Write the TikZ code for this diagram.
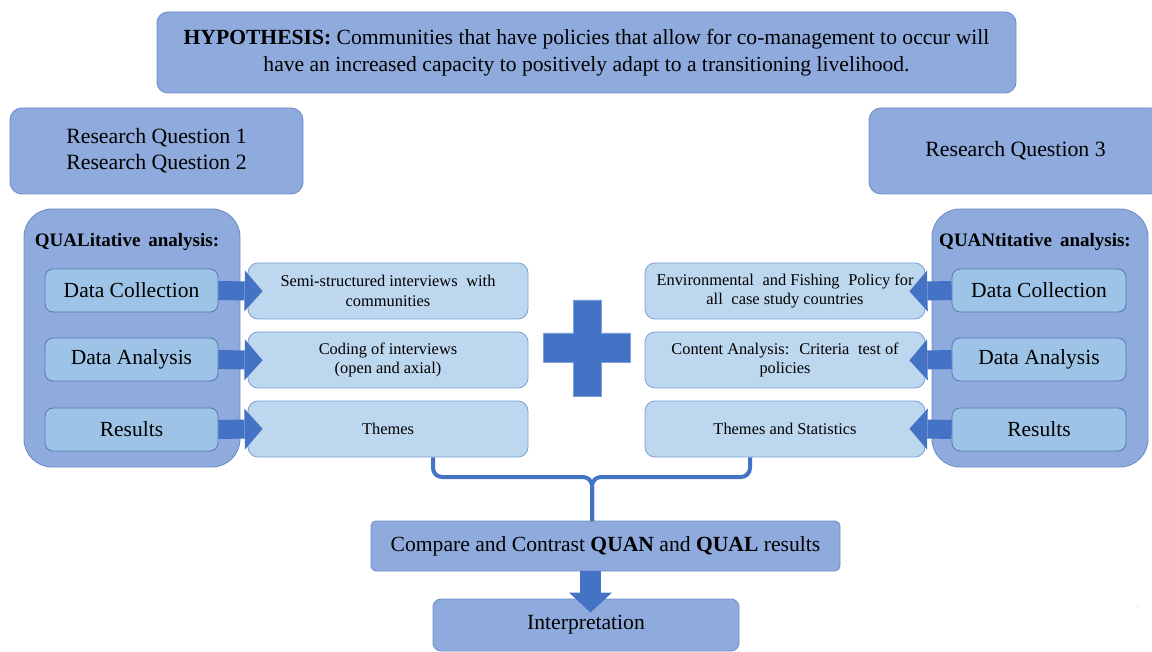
\documentclass[tikz,border=0pt]{standalone}
\usepackage{fontspec}
\setmainfont{Liberation Serif}
\usepackage{tikz}
\usetikzlibrary{arrows.meta,positioning,calc}
\definecolor{rqFrame}{HTML}{8FAADC}
\definecolor{rqFrameLine}{HTML}{6F8FCB}
\definecolor{rqStep}{HTML}{9DC3E6}
\definecolor{rqStepLine}{HTML}{5577B5}
\definecolor{rqPale}{HTML}{BDD7EE}
\definecolor{rqPaleLine}{HTML}{7E9FD6}
\definecolor{rqArrow}{HTML}{4472C4}

\tikzset{
  framebox/.style={draw=rqFrameLine, fill=rqFrame, line width=0.9pt, inner sep=0pt, align=center},
  stepbox/.style={draw=rqStepLine, fill=rqStep, line width=0.8pt, rounded corners=8pt, inner sep=0pt,
    minimum height=43pt, align=center, font=\fontsize{21.5}{25}\selectfont},
  palebox/.style={draw=rqPaleLine, fill=rqPale, line width=0.8pt, rounded corners=10pt, inner sep=0pt,
    minimum width=280pt, minimum height=56pt, align=center, font=\fontsize{16.4}{19.5}\selectfont},
  fatarrow/.style={rqArrow, line width=19pt, -{Triangle[length=18pt,width=41pt,line width'=0pt]}}
}

\begin{document}
\begin{tikzpicture}[x=1pt, y=-1pt]
    \useasboundingbox (0,0) rectangle (1152,652);
    \clip (0,0) rectangle (1152,652);
    \fill[white] (0,0) rectangle (1152,652);

    \node[framebox, rounded corners=11pt, minimum width=859pt, minimum height=81pt,
      font=\fontsize{21.6}{27}\selectfont] (hyp) at (586.5,52.5)
      {\textbf{HYPOTHESIS:} Communities that have policies that allow for co-management to occur will\\
       have an increased capacity to positively adapt to a transitioning livelihood.};

    \node[framebox, rounded corners=12pt, minimum width=293pt, minimum height=86pt,
      font=\fontsize{21.8}{26}\selectfont] (rqa) at (156.5,151)
      {Research Question 1\\Research Question 2};
    \node[framebox, rounded corners=12pt, minimum width=293pt, minimum height=86pt,
      font=\fontsize{21.8}{26}\selectfont] (rqb) at (1015.5,151) {Research Question 3};

    \node[framebox, rounded corners=28pt, minimum width=216pt, minimum height=258pt] (qual) at (132,338) {};
    \node[framebox, rounded corners=28pt, minimum width=216pt, minimum height=258pt] (quan) at (1040,338) {};
    \node[font=\bfseries\fontsize{19}{22}\selectfont] (qualtitle) at (127,242) {QUALitative\, analysis:};
    \node[font=\bfseries\fontsize{19}{22}\selectfont] (quantitle) at (1035,242) {QUANtitative\, analysis:};

    \node[stepbox, minimum width=173pt] (qlcoll) at (131.5,290.5) {Data Collection};
    \node[stepbox, minimum width=173pt] (qlana) at (131.5,359.5) {Data Analysis};
    \node[stepbox, minimum width=173pt] (qlres) at (131.5,429.5) {Results};
    \node[stepbox, minimum width=174pt] (qncoll) at (1039,290.5) {Data Collection};
    \node[stepbox, minimum width=174pt] (qnana) at (1039,359.5) {Data Analysis};
    \node[stepbox, minimum width=174pt] (qnres) at (1039,429.5) {Results};

    \node[palebox] (semi) at (388,291) {Semi-structured interviews\; with\\communities};
    \node[palebox] (coding) at (388,360) {Coding of interviews\\(open and axial)};
    \node[palebox] (themes) at (388,429) {Themes};
    \node[palebox] (policy) at (785,291) {Environmental\; and Fishing\; Policy for\\all\; case study countries};
    \node[palebox] (content) at (785,360) {Content Analysis:\; Criteria\; test of\\policies};
    \node[palebox] (stats) at (785,429) {Themes and Statistics};

    \draw[fatarrow, shorten >=-15pt] (qlcoll.east) -- (semi.west);
    \draw[fatarrow, shorten >=-15pt] (qlana.east) -- (coding.west);
    \draw[fatarrow, shorten >=-15pt] (qlres.east) -- (themes.west);
    \draw[fatarrow, shorten >=-16pt] (qncoll.west) -- (policy.east);
    \draw[fatarrow, shorten >=-16pt] (qnana.west) -- (content.east);
    \draw[fatarrow, shorten >=-16pt] (qnres.west) -- (stats.east);

    \fill[rqArrow, draw=rqPaleLine, line width=0.5pt] (573,300) -- (601,300) -- (601,333) -- (630,333) -- (630,362)
      -- (601,362) -- (601,396) -- (573,396) -- (573,362) -- (543,362) -- (543,333) -- (573,333) -- cycle;

    \node[framebox, rounded corners=5pt, minimum width=469pt, minimum height=50pt,
      font=\fontsize{21.6}{24}\selectfont] (compare) at (605.5,546)
      {Compare and Contrast \textbf{QUAN} and \textbf{QUAL} results};
    \node[framebox, rounded corners=8pt, minimum width=306pt, minimum height=52pt,
      font=\fontsize{21.6}{24}\selectfont] (interp) at (586,625) {Interpretation};

    \coordinate (braceL) at ($(themes.south)+(45,0)$);
    \coordinate (braceR) at ($(stats.south)+(-35,0)$);
    \coordinate (braceM) at (592,521);
    \draw[rqArrow, line width=4pt, rounded corners=9pt] (braceL) |- (braceM |- 0,477) -- (braceM);
    \draw[rqArrow, line width=4pt, rounded corners=9pt] (braceR) |- (braceM |- 0,477) -- (braceM);

    \draw[rqArrow, line width=21pt, -{Triangle[length=20pt,width=43pt,line width'=0pt]}, shorten >=-14pt]
      (compare.south -| 590.5,0) -- (interp.north -| 590.5,0);

    \node[font=\fontsize{6}{6}\selectfont, text=black!60] (stray) at (1138,607) {:};
\end{tikzpicture}
\end{document}
